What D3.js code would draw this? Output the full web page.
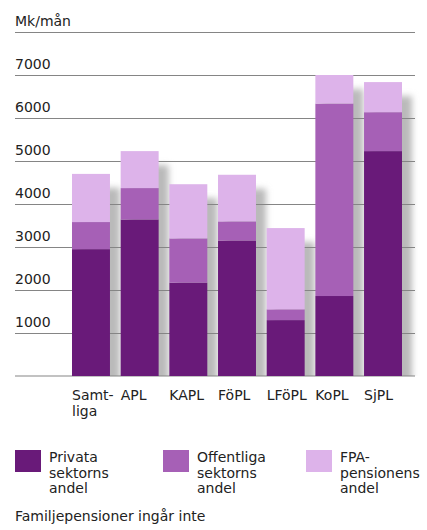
<!DOCTYPE html>
<html>
<head>
<meta charset="utf-8">
<script src="https://cdn.jsdelivr.net/npm/d3@7"></script>
<style>
  body { margin: 0; background: #fff; }
  text { font-family: "DejaVu Sans", Verdana, sans-serif; fill: #222; }
</style>
</head>
<body>
<svg id="svg" width="427" height="530"></svg>
<script>
// data
var categories = ["Samtliga", "APL", "KAPL", "FöPL", "LFöPL", "KoPL", "SjPL"];
var catLabels = [["Samt-", "liga"], ["APL"], ["KAPL"], ["FöPL"], ["LFöPL"], ["KoPL"], ["SjPL"]];
var privata = [2950, 3640, 2170, 3150, 1300, 1860, 5230];
var offentliga = [630, 730, 1030, 445, 250, 4475, 905];
var fpa = [1120, 860, 1260, 1085, 1890, 665, 700];
var tickValues = [1000, 2000, 3000, 4000, 5000, 6000, 7000, 8000];
var tickLabels = ["1000", "2000", "3000", "4000", "5000", "6000", "7000", "Mk/mån"];
var seriesNames = ["Privata sektorns andel", "Offentliga sektorns andel", "FPA-pensionens andel"];
var legendLines = [["Privata", "sektorns", "andel"], ["Offentliga", "sektorns", "andel"], ["FPA-", "pensionens", "andel"]];
var colors = ["#691a79", "#a660b6", "#ddb3ea"];

var svg = d3.select("#svg");
var fs = "14px";

var rows = categories.map(function (c, i) {
    return { cat: c, privata: privata[i], offentliga: offentliga[i], fpa: fpa[i] };
});
var stack = d3.stack().keys(["privata", "offentliga", "fpa"]);
var series = stack(rows);

var x = d3.scaleBand().domain(categories).range([72, 402]).paddingInner(0.22).paddingOuter(0);
var y = d3.scaleLinear().domain([0, 8000]).range([376, 32]);

var defs = svg.append("defs");
defs.append("filter").attr("id", "blur")
    .attr("x", "-50%").attr("y", "-50%").attr("width", "200%").attr("height", "200%")
    .append("feGaussianBlur").attr("stdDeviation", 3);
defs.append("clipPath").attr("id", "clip")
    .append("rect").attr("x", 0).attr("y", 0).attr("width", 427).attr("height", y(0));

// shadows behind bars
svg.append("g")
    .attr("clip-path", "url(#clip)")
    .selectAll("rect")
    .data(rows)
    .enter().append("rect")
    .attr("x", function (d) { return x(d.cat) + 7; })
    .attr("y", function (d) { return y(d.privata + d.offentliga + d.fpa) + 14; })
    .attr("width", x.bandwidth() + 3)
    .attr("height", function (d) { return y(0) - y(d.privata + d.offentliga + d.fpa); })
    .attr("fill", "#bababa")
    .attr("filter", "url(#blur)");

// gridlines + labels
var axis = d3.axisRight(y)
    .tickValues(tickValues)
    .tickSize(400)
    .tickFormat(function (d, i) { return tickLabels[i]; });

var gAxis = svg.append("g")
    .attr("transform", "translate(15,0)")
    .call(axis);
gAxis.select(".domain").remove();
gAxis.selectAll(".tick line").attr("stroke", "#858585").attr("stroke-width", 1);
gAxis.selectAll(".tick text")
    .attr("x", 0)
    .attr("dy", -7)
    .attr("text-anchor", "start")
    .style("font-size", fs)
    .style("font-family", "DejaVu Sans, Verdana, sans-serif")
    .attr("fill", "#222");

// baseline
svg.append("line")
    .attr("x1", 15).attr("x2", 415)
    .attr("y1", y(0)).attr("y2", y(0))
    .attr("stroke", "#858585");

// bars
svg.append("g")
    .selectAll("g")
    .data(series)
    .enter().append("g")
    .attr("fill", function (d, i) { return colors[i]; })
    .selectAll("rect")
    .data(function (d) { return d; })
    .enter().append("rect")
    .attr("x", function (d) { return x(d.data.cat); })
    .attr("y", function (d) { return y(d[1]); })
    .attr("width", x.bandwidth())
    .attr("height", function (d) { return y(d[0]) - y(d[1]); });

// category labels
var cl = svg.append("g")
    .selectAll("text")
    .data(categories)
    .enter().append("text")
    .attr("x", function (d) { return x(d); })
    .attr("y", 400)
    .style("font-size", fs);
cl.each(function (d, i) {
    var t = d3.select(this);
    catLabels[i].forEach(function (line, j) {
        t.append("tspan").attr("x", x(d)).attr("dy", j === 0 ? 0 : 16).text(line);
    });
});

// legend
var legendX = [15, 163, 306];
var lg = svg.append("g")
    .selectAll("g")
    .data(seriesNames)
    .enter().append("g")
    .attr("transform", function (d, i) { return "translate(" + legendX[i] + ",450)"; });
lg.append("rect")
    .attr("width", 26).attr("height", 22)
    .attr("fill", function (d, i) { return colors[i]; });
lg.append("text")
    .attr("x", 34)
    .attr("y", 12)
    .style("font-size", fs)
    .each(function (d, i) {
        var t = d3.select(this);
        legendLines[i].forEach(function (line, j) {
            t.append("tspan").attr("x", 34).attr("dy", j === 0 ? 0 : 15.5).text(line);
        });
    });

svg.append("text")
    .attr("x", 15)
    .attr("y", 521)
    .style("font-size", fs)
    .text("Familjepensioner ingår inte");
</script>
</body>
</html>
